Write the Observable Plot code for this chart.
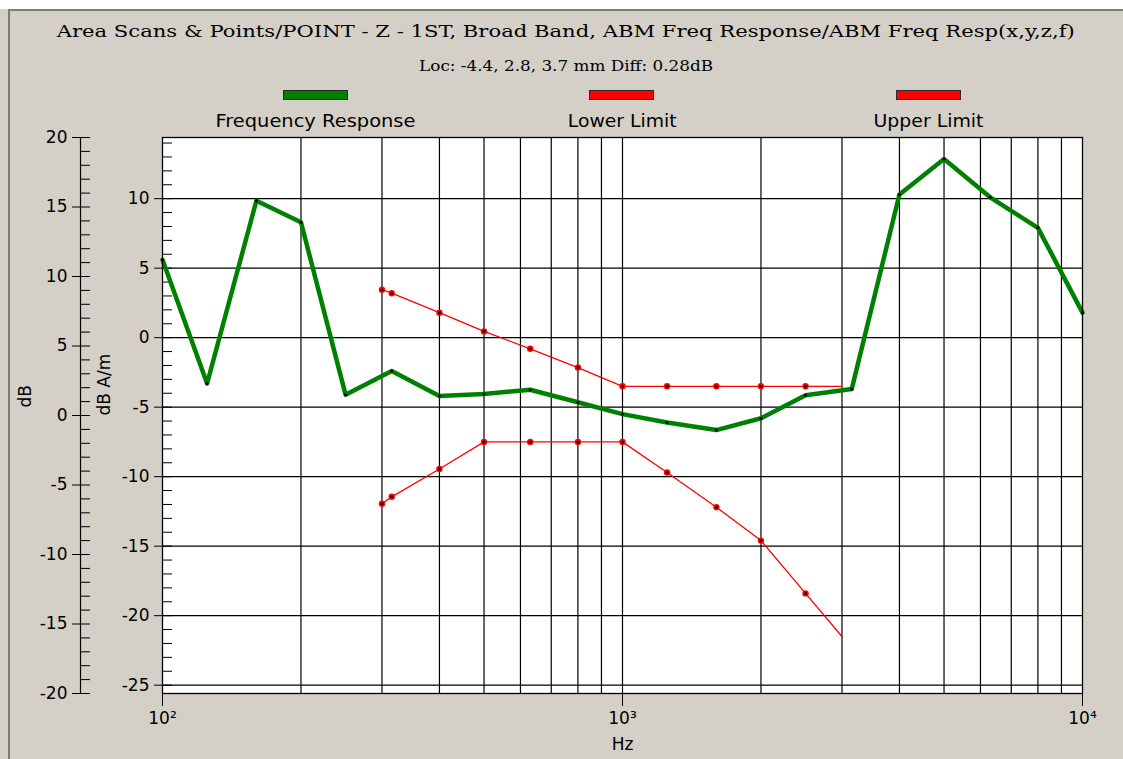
<!DOCTYPE html>
<html><head><meta charset="utf-8">
<script src="https://cdn.jsdelivr.net/npm/d3@7"></script>
<script src="https://cdn.jsdelivr.net/npm/@observablehq/plot@0.6"></script>
<style>
html,body{margin:0;padding:0;background:#fff;}
#page{position:relative;width:1123px;height:759px;overflow:hidden;background:#fff;}
#panel{position:absolute;left:0;top:9px;width:1123px;height:750px;background:#d4d0c8;}
#edge{position:absolute;left:8px;top:9px;width:1115px;height:750px;border-left:2px solid #7c7c7c;border-top:2px solid #7c7c7c;box-sizing:border-box;}
.t{position:absolute;white-space:nowrap;transform-origin:center top;color:#000;}
.ser{font-family:"DejaVu Serif",serif;}
.san{font-family:"DejaVu Sans",sans-serif;}
.bar{position:absolute;height:10px;box-sizing:border-box;border:1px solid #2a2a2a;}
#chart{position:absolute;left:0;top:125px;}
</style></head>
<body><div id="page"><div id="panel"></div><div id="edge"></div><div id="chart"></div></div>
<script>
// ---- data ----
const titleText = "Area Scans & Points/POINT - Z - 1ST, Broad Band, ABM Freq Response/ABM Freq Resp(x,y,z,f)";
const subtitleText = "Loc: -4.4, 2.8, 3.7 mm Diff: 0.28dB";
const seriesNames = ["Frequency Response", "Lower Limit", "Upper Limit"];
const seriesColors = ["#008000", "#ff0000", "#ff0000"];

const freqs = [100,125,160,200,250,315,400,500,630,800,1000,1250,1600,2000,2500,3150,4000,5000,6300,8000,10000];
const response = [5.6,-3.3,9.85,8.3,-4.1,-2.4,-4.2,-4.05,-3.75,-4.65,-5.5,-6.1,-6.65,-5.8,-4.15,-3.7,10.3,12.85,10.1,7.9,1.8];

const limitFreqs = [300,315,400,500,630,800,1000,1250,1600,2000,2500,3000];
const lowerLimit = [-11.95,-11.45,-9.45,-7.5,-7.5,-7.5,-7.5,-9.7,-12.2,-14.6,-18.4,-21.5];
const upperLimit = [3.45,3.2,1.8,0.45,-0.8,-2.15,-3.5,-3.5,-3.5,-3.5,-3.5,-3.5];
const limitMarkerFreqs = [300,315,400,500,630,800,1000,1250,1600,2000,2500];

const xMajorTicks = [100,1000,10000];
const xGrid = [200,300,400,500,600,700,800,900,1000,2000,3000,4000,5000,6000,7000,8000,9000];
const innerTicks = [10,5,0,-5,-10,-15,-20,-25];          // dB A/m
const outerTicks = [20,15,10,5,0,-5,-10,-15,-20];         // dB
const OFFSET = 5.6;                                        // dB = dB A/m + OFFSET

// ---- header (title, subtitle, legend) ----
const page = document.getElementById("page");
function addText(txt, cls, size, cx, top, targetW){
  const d = document.createElement("div");
  d.className = "t " + cls; d.textContent = txt;
  d.style.fontSize = size + "px"; d.style.lineHeight = Math.round(size*1.18) + "px";
  d.style.top = top + "px"; d.style.left = "0px";
  page.appendChild(d);
  const w = d.getBoundingClientRect().width;
  const s = targetW / w;
  d.style.left = (cx - w/2) + "px";
  d.style.transform = "scaleX(" + s + ")";
  return d;
}
addText(titleText, "ser", 17, 566, 21, 1018);
addText(subtitleText, "ser", 15, 566, 57, 294);
const legendCenters = [315, 622.5, 929];
const legendWidths = [200, 109, 110];
const barLefts = [283, 589, 896];
seriesNames.forEach((n,i)=>{
  const b = document.createElement("div");
  b.className = "bar"; b.style.left = barLefts[i] + "px"; b.style.top = "90px";
  b.style.width = "65px"; b.style.background = seriesColors[i];
  page.appendChild(b);
  addText(n, "san", 17, legendCenters[i], 111, legendWidths[i]);
});

// ---- chart ----
const resp = freqs.map((f,i)=>({f, v: response[i]}));
const low = limitFreqs.map((f,i)=>({f, v: lowerLimit[i]}));
const up = limitFreqs.map((f,i)=>({f, v: upperLimit[i]}));
const lowM = low.filter(d => limitMarkerFreqs.includes(d.f));
const upM = up.filter(d => limitMarkerFreqs.includes(d.f));
const innerMinor = d3.range(-25, 15, 1);
const outerMinor = d3.range(-20, 21, 1).map(u => u - OFFSET);
const sup = {2:"\u00b2",3:"\u00b3",4:"\u2074"};

const chart = Plot.plot({
  width: 1123, height: 634,
  marginTop: 12, marginBottom: 66, marginLeft: 162, marginRight: 41,
  style: {background: "transparent", fontFamily: "DejaVu Sans, sans-serif", fontSize: "17px", color: "#000"},
  x: {type: "log", domain: [100, 10000]},
  y: {domain: [outerTicks[outerTicks.length-1] - OFFSET, outerTicks[0] - OFFSET]},
  marks: [
    Plot.frame({fill: "white", stroke: null}),
    Plot.ruleX(xGrid, {stroke: "#000", strokeWidth: 1.2}),
    Plot.ruleY(innerTicks, {stroke: "#000", strokeWidth: 1.2}),
    Plot.ruleY(innerMinor, {insetRight: 910, stroke: "#000"}),
    Plot.axisY({ticks: innerTicks, tickSize: 8, tickPadding: 5, label: null, tickFormat: d => String(d)}),
    // outer dB axis
    Plot.ruleX([100], {dx: -82, stroke: "#000", strokeWidth: 1.2}),
    Plot.ruleY(outerMinor, {insetLeft: -82, insetRight: 992, stroke: "#000"}),
    Plot.axisY({ticks: outerTicks.map(u => u - OFFSET), tickSize: 8, tickPadding: 5, dx: -82, label: null,
      tickFormat: d => String(Math.round(d + OFFSET))}),
    Plot.axisX({ticks: xMajorTicks, tickSize: 13, tickPadding: 5, label: null,
      tickFormat: d => "10" + sup[Math.round(Math.log10(d))]}),
    Plot.text(["Hz"], {text: d => d, frameAnchor: "bottom", dy: 56}),
    Plot.text(["dB A/m"], {text: d => d, frameAnchor: "left", dx: -58, rotate: -90}),
    Plot.text(["dB"], {text: d => d, frameAnchor: "left", dx: -137, dy: -8, rotate: -90}),
    // series
    Plot.line(up, {x: "f", y: "v", stroke: seriesColors[2], strokeWidth: 1.3}),
    Plot.line(low, {x: "f", y: "v", stroke: seriesColors[1], strokeWidth: 1.3}),
    Plot.dot(upM, {x: "f", y: "v", r: 3.2, fill: seriesColors[2], stroke: null}),
    Plot.dot(lowM, {x: "f", y: "v", r: 3.2, fill: seriesColors[1], stroke: null}),
    Plot.dot(upM, {x: "f", y: "v", r: 1.5, fill: "#000", stroke: null}),
    Plot.dot(lowM, {x: "f", y: "v", r: 1.5, fill: "#000", stroke: null}),
    Plot.line(resp, {x: "f", y: "v", stroke: seriesColors[0], strokeWidth: 4.5, strokeLinejoin: "round"}),
    Plot.dot(resp, {x: "f", y: "v", r: 1.5, fill: "#000", stroke: null}),
    Plot.frame({stroke: "#000", strokeWidth: 1.3})
  ]
});
document.getElementById("chart").appendChild(chart);
</script>
</body></html>
